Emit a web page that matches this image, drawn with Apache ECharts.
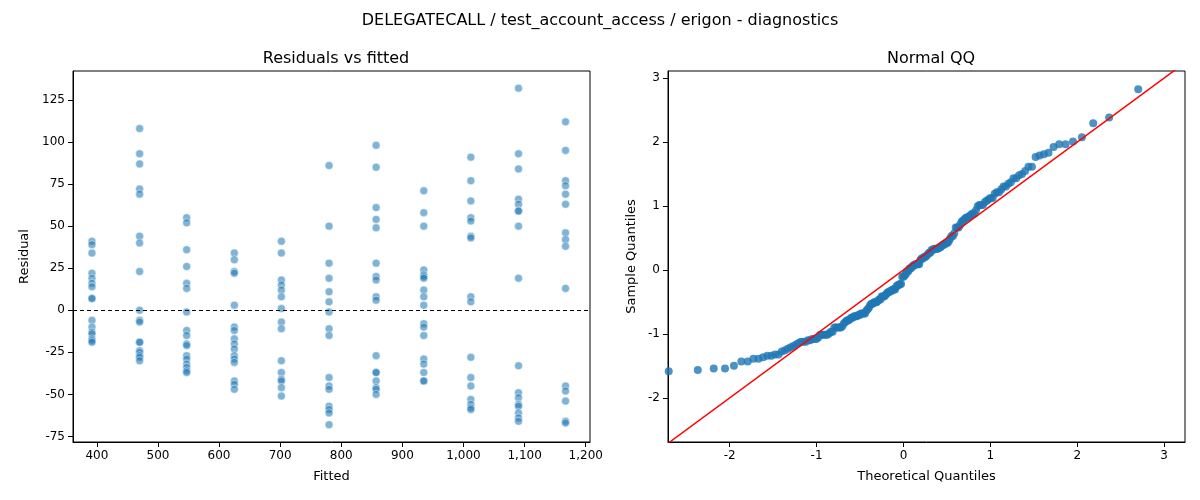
<!DOCTYPE html>
<html>
<head>
<meta charset="utf-8">
<script src="https://cdn.jsdelivr.net/npm/echarts@6/dist/echarts.min.js"></script>
<style>body{margin:0}#c{width:1200px;height:500px}</style>
</head>
<body>
<div id="c"></div>
<script>
// fitted value of each group, and the residuals read per group
const fitted = [392, 470, 547, 625, 702, 780, 857, 935, 1012, 1090, 1167];
const residuals = [
  [41, 39, 34, 22, 19, 16, 14, 7, 7, -6, -10, -13, -14, -17, -18, -19],
  [108, 93, 87, 72, 69, 44, 40, 23, 0, -6, -7, -19, -19, -24, -25, -27, -28, -30],
  [55, 52, 36, 26, 16, 13, -1, -12, -15, -20, -21, -27, -29, -32, -34, -36, -37],
  [34, 30, 23, 22, 3, -10, -12, -17, -20, -23, -27, -29, -31, -42, -44, -47],
  [41, 34, 18, 15, 12, 8, 1, -7, -11, -30, -37, -41, -42, -46, -51],
  [86, 50, 28, 19, 11, 5, -1, -11, -15, -40, -45, -47, -57, -59, -61, -68],
  [98, 85, 61, 54, 49, 28, 20, 18, 8, 6, -27, -37, -37, -42, -46, -47, -50],
  [71, 58, 50, 24, 21, 20, 19, 12, 8, 3, -8, -10, -15, -29, -32, -37, -42, -42],
  [91, 77, 65, 55, 53, 44, 43, 8, 5, -28, -40, -45, -53, -56, -58, -59],
  [132, 93, 84, 66, 63, 59, 59, 50, 19, -33, -49, -52, -56, -57, -61, -64, -66],
  [112, 95, 77, 74, 69, 63, 46, 42, 38, 13, -45, -48, -54, -66, -67]
];
const residTicks = [-75, -50, -25, 0, 25, 50, 75, 100, 125];
const fittedTicks = [400, 500, 600, 700, 800, 900, 1000, 1100, 1200];
const qqTicks = [-2, -1, 0, 1, 2, 3];

const scatter = [];
fitted.forEach((f, i) => residuals[i].forEach(r => scatter.push([f, r])));

// normal QQ: standardized sorted residuals vs normal quantiles
function ppf(p) {
  const a = [-39.69683028665376, 220.9460984245205, -275.9285104469687, 138.357751867269, -30.66479806614716, 2.506628277459239];
  const b = [-54.47609879822406, 161.5858368580409, -155.6989798598866, 66.80131188771972, -13.28068155288572];
  const c = [-0.007784894002430293, -0.3223964580411365, -2.400758277161838, -2.549732539343734, 4.374664141464968, 2.938163982698783];
  const d = [0.007784695709041462, 0.3224671290700398, 2.445134137142996, 3.754408661907416];
  const pl = 0.02425;
  let q, r;
  if (p < pl) { q = Math.sqrt(-2 * Math.log(p)); return (((((c[0]*q+c[1])*q+c[2])*q+c[3])*q+c[4])*q+c[5])/((((d[0]*q+d[1])*q+d[2])*q+d[3])*q+1); }
  if (p > 1 - pl) { q = Math.sqrt(-2 * Math.log(1 - p)); return -(((((c[0]*q+c[1])*q+c[2])*q+c[3])*q+c[4])*q+c[5])/((((d[0]*q+d[1])*q+d[2])*q+d[3])*q+1); }
  q = p - 0.5; r = q * q;
  return (((((a[0]*r+a[1])*r+a[2])*r+a[3])*r+a[4])*r+a[5])*q/(((((b[0]*r+b[1])*r+b[2])*r+b[3])*r+b[4])*r+1);
}
const all = scatter.map(p => p[1]).sort((x, y) => x - y);
const n = all.length;
const mean = all.reduce((s, v) => s + v, 0) / n;
const sd = Math.sqrt(all.reduce((s, v) => s + (v - mean) ** 2, 0) / (n - 1));
const qq = all.map((v, i) => [ppf((i + 1 - 0.375) / (n + 0.25)), (v - mean) / sd]);

const font = 'DejaVu Sans';
const axisCommon = {
  axisLine: { show: true, onZero: false, lineStyle: { color: '#000' } },
  axisTick: { show: true, lineStyle: { color: '#000' } },
  axisLabel: { color: '#000', fontSize: 12, fontFamily: font },
  splitLine: { show: false },
  nameLocation: 'middle',
  nameTextStyle: { color: '#000', fontSize: 13, fontFamily: font }
};
function ax(extra, ticks) {
  return Object.assign({}, axisCommon, extra, {
    axisTick: Object.assign({}, axisCommon.axisTick, { customValues: ticks }),
    axisLabel: Object.assign({}, axisCommon.axisLabel, { customValues: ticks })
  });
}

const chart = echarts.init(document.getElementById('c'));
chart.setOption({
  animation: false,
  backgroundColor: '#fff',
  title: [
    { text: 'DELEGATECALL / test_account_access / erigon - diagnostics', left: 'center', top: 8, textStyle: { fontSize: 16, fontWeight: 'normal', fontFamily: font, color: '#000' } },
    { text: 'Residuals vs fitted', left: 331, textAlign: 'center', top: 46, textStyle: { fontSize: 16, fontWeight: 'normal', fontFamily: font, color: '#000' } },
    { text: 'Normal QQ', left: 926, textAlign: 'center', top: 46, textStyle: { fontSize: 16, fontWeight: 'normal', fontFamily: font, color: '#000' } }
  ],
  grid: [
    { left: 73, right: 610, top: 71, bottom: 58, show: true, borderColor: '#000', borderWidth: 1 },
    { left: 668, right: 15, top: 71, bottom: 58, show: true, borderColor: '#000', borderWidth: 1 }
  ],
  xAxis: [
    ax({ type: 'value', gridIndex: 0, min: 361, max: 1207, name: 'Fitted', nameGap: 28 }, fittedTicks),
    ax({ type: 'value', gridIndex: 1, min: -2.71, max: 3.24, name: 'Theoretical Quantiles', nameGap: 28 }, qqTicks)
  ],
  yAxis: [
    ax({ type: 'value', gridIndex: 0, min: -78.3, max: 142.2, name: 'Residual', nameGap: 42 }, residTicks),
    ax({ type: 'value', gridIndex: 1, min: -2.69, max: 3.11, name: 'Sample Quantiles', nameGap: 30 }, qqTicks)
  ],
  series: [
    {
      type: 'scatter', xAxisIndex: 0, yAxisIndex: 0, data: scatter, symbolSize: 8,
      itemStyle: { color: 'rgba(31,119,180,0.7)', borderColor: '#fff', borderWidth: 0.6 },
      markLine: {
        silent: true, symbol: 'none', label: { show: false },
        lineStyle: { color: '#000', type: [4, 3], width: 1 },
        data: [{ yAxis: 0 }]
      }
    },
    {
      type: 'scatter', xAxisIndex: 1, yAxisIndex: 1, data: qq, symbolSize: 8,
      itemStyle: { color: '#1f77b4' }
    },
    {
      type: 'line', xAxisIndex: 1, yAxisIndex: 1, symbol: 'none',
      data: [[-2.71, -2.71], [3.24, 3.24]], clip: true,
      lineStyle: { color: '#ff0000', width: 1.5 }
    }
  ]
});
</script>
</body>
</html>
